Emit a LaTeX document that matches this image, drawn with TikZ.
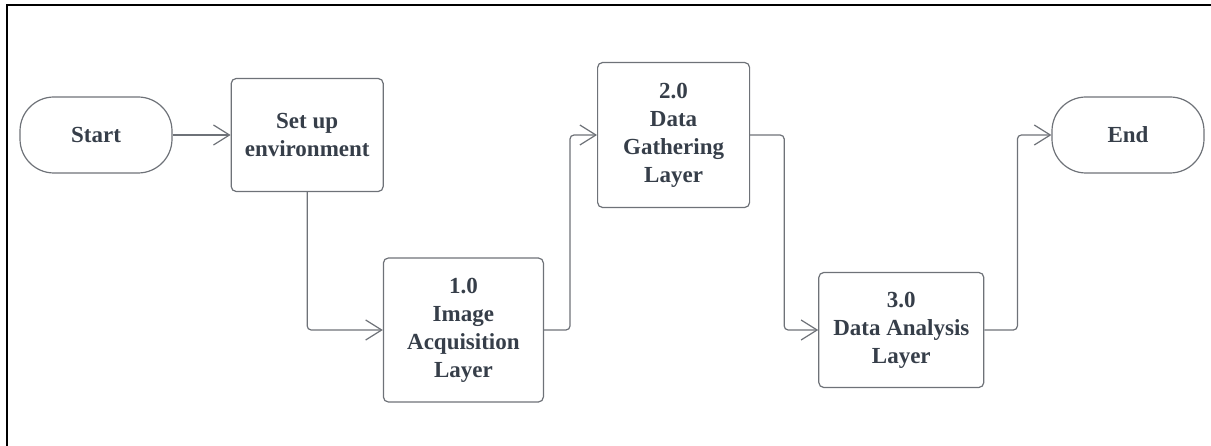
\documentclass[tikz,border=0pt]{standalone}
\usepackage{fontspec}
\setmainfont{Liberation Serif}
\usetikzlibrary{positioning}
\usetikzlibrary{arrows.meta}
\definecolor{ink}{HTML}{363E49}
\definecolor{wire}{HTML}{6E7278}

\begin{document}
\begin{tikzpicture}[x=1pt, y=1pt,
  every node/.style = {shape=rectangle, draw=wire, line width=1.2pt, rounded corners=5pt,
    align=center, text=ink, font=\fontsize{23}{28}\selectfont\bfseries},
  term/.style = {minimum width=152pt, minimum height=76pt, rounded corners=34pt},
  flow/.style = {draw=wire, line width=1.2pt, rounded corners=4pt,
    -{Straight Barb[length=16pt, width=20pt]}}]
  \useasboundingbox (0,0) rectangle (1211,-446);
  \draw[line width=2pt] (7,-446) -- (7,-5) -- (1211,-5);

  \node (start) [term] at (96,-135) {Start};
  \node (setup) [right=58pt of start, minimum width=152pt, minimum height=113pt] {Set up\\environment};
  \node (image) [right=-1pt of setup, yshift=-195pt, minimum width=160pt, minimum height=144pt] {1.0\\Image\\Acquisition\\Layer};
  \node (gather) [right=53pt of image, yshift=195pt, minimum width=152pt, minimum height=145pt] {2.0\\Data\\Gathering\\Layer};
  \node (analysis) [right=68pt of gather, yshift=-195pt, minimum width=165pt, minimum height=115pt] {3.0\\Data Analysis\\Layer};
  \node (end) [term, right=67pt of analysis, yshift=195pt] {End};

  \draw[flow] (start) -- (setup);
  \draw[flow] (setup.south) |- (image.west);
  \draw[flow] (image.east) -- ++(26pt,0) |- (gather.west);
  \draw[flow] (gather.east) -- ++(34pt,0) |- (analysis.west);
  \draw[flow] (analysis.east) -- ++(33pt,0) |- (end.west);
\end{tikzpicture}
\end{document}
